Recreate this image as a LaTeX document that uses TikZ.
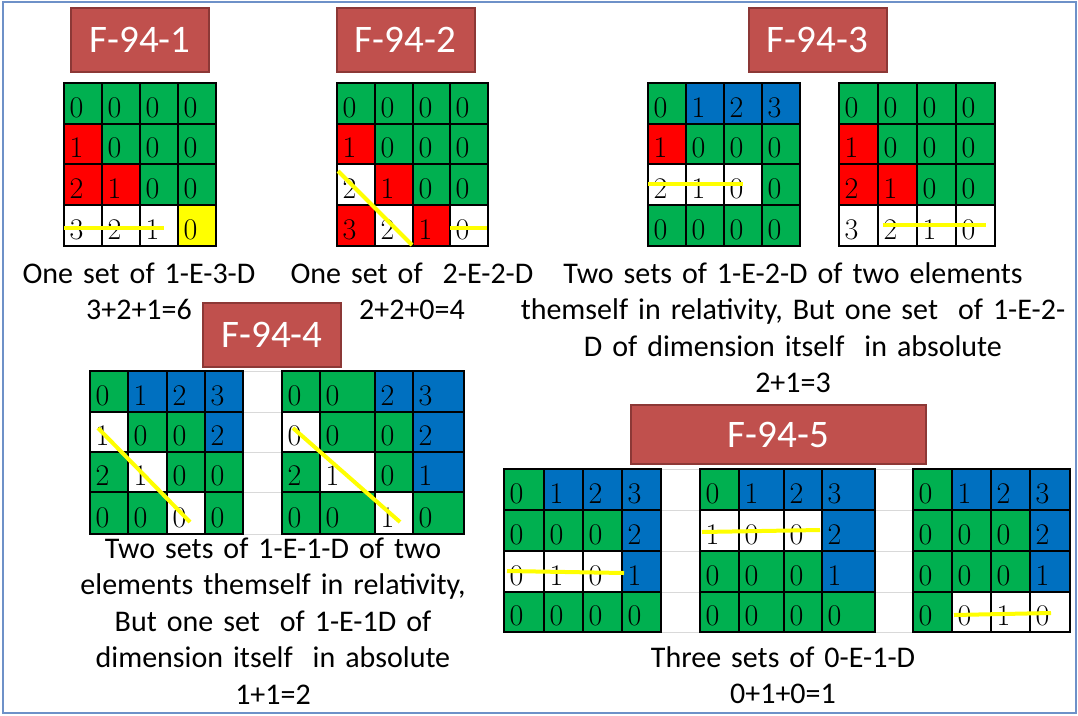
\documentclass[tikz,border=0pt]{standalone}
\usepackage{fontspec}
\newfontfamily\calibri{Carlito}
\definecolor{Vert}{RGB}{0,176,80}
\definecolor{Rouge}{RGB}{255,0,0}
\definecolor{Bleu}{RGB}{0,112,192}
\definecolor{Jaune}{RGB}{255,255,0}
\definecolor{Brique}{RGB}{192,80,77}
\definecolor{BriqueFonce}{RGB}{140,56,54}
\definecolor{Cadre}{RGB}{110,145,200}
\definecolor{Gris}{RGB}{217,217,217}
\tikzset{titre/.style={rectangle, draw=BriqueFonce, fill=Brique, line width=2pt,
  text=white, font=\calibri\fontsize{39}{47}\selectfont,
  minimum width=138pt, minimum height=64pt, inner sep=0pt}}
\tikzset{legende/.style={anchor=base, align=center, inner sep=0pt,
  font=\calibri\fontsize{30}{36.5}\selectfont}}
\tikzset{case/.style={draw=black, line width=1.5pt}}
\tikzset{chiffre/.style={anchor=base west, inner sep=0pt, font=\fontsize{30}{36}\selectfont}}
\tikzset{trait/.style={draw=Jaune, line width=4pt}}
\tikzset{fin/.style={draw=Gris, line width=1pt}}
% #1 nom, #2 bords x, #3 bords y, #4 cases couleur/valeur
\newcommand{\grille}[4]{%
  \foreach \coul/\val [count=\k from 0] in {#4}{%
    \pgfmathtruncatemacro{\ligne}{\k/4}%
    \pgfmathtruncatemacro{\colonne}{mod(\k,4)}%
    \pgfmathsetmacro{\xa}{{#2}[\colonne]}%
    \pgfmathsetmacro{\xb}{{#2}[\colonne+1]}%
    \pgfmathsetmacro{\ya}{{#3}[\ligne]}%
    \pgfmathsetmacro{\yb}{{#3}[\ligne+1]}%
    \draw[case, fill=\coul] (\xa,\ya) rectangle (\xb,\yb);
    \node[chiffre] (#1-\k) at (\xa+5.5,\yb-7) {\val};
  }%
}

\begin{document}
\begin{tikzpicture}[x=1pt, y=-1pt]
\useasboundingbox (0,0) rectangle (1078,715);
\draw[draw=Cadre, line width=2pt] (3,2) rectangle (1076,713);
\node[titre] (t1) at (140,39.5) {F-94-1};
\node[titre] (t2) at (405.5,39.5) {F-94-2};
\node[titre] (t3) at (817.5,39.5) {F-94-3};
\node[titre] (t4) at (272,335) {F-94-4};
\node[titre, minimum width=295pt, minimum height=59pt] (t5) at (778.5,434.5) {F-94-5};
% lignes grises entre les tableaux
\foreach \y in {371,412,452,492,534} \draw[fin] (243,\y) -- (282,\y);
\foreach \y in {469,510,551,592,632} {\draw[fin] (661,\y) -- (700,\y); \draw[fin] (875,\y) -- (913,\y);}
\grille{g1}{64,102,140,178,216}{83,124,164,205,246}{Vert/0,Vert/0,Vert/0,Vert/0,
  Rouge/1,Vert/0,Vert/0,Vert/0,Rouge/2,Rouge/1,Vert/0,Vert/0,white/3,white/2,white/1,Jaune/0}
\grille{g2}{337,375,413,450,488}{83,124,164,205,246}{Vert/0,Vert/0,Vert/0,Vert/0,
  Rouge/1,Vert/0,Vert/0,Vert/0,white/2,Rouge/1,Vert/0,Vert/0,Rouge/3,white/2,Rouge/1,white/0}
\grille{g3a}{648,686,724,762,800}{83,124,164,205,246}{Vert/0,Bleu/1,Bleu/2,Bleu/3,
  Rouge/1,Vert/0,Vert/0,Vert/0,white/2,white/1,white/0,Vert/0,Vert/0,Vert/0,Vert/0,Vert/0}
\grille{g3b}{839,878,917,956,995}{83,124,164,205,246}{Vert/0,Vert/0,Vert/0,Vert/0,
  Rouge/1,Vert/0,Vert/0,Vert/0,Rouge/2,Rouge/1,Vert/0,Vert/0,white/3,white/2,white/1,white/0}
\grille{g4a}{90,128,167,205,243}{371,412,452,492,534}{Vert/0,Bleu/1,Bleu/2,Bleu/3,
  white/1,Vert/0,Vert/0,Bleu/2,Vert/2,white/1,Vert/0,Vert/0,Vert/0,Vert/0,white/0,Vert/0}
\grille{g4b}{282,320,375,413,464}{371,412,452,492,534}{Vert/0,Vert/0,Bleu/2,Bleu/3,
  white/0,Vert/0,Vert/0,Bleu/2,Vert/2,white/1,Vert/0,Bleu/1,Vert/0,Vert/0,white/1,Vert/0}
\grille{g5a}{504,544,583,622,661}{469,510,551,592,632}{Vert/0,Bleu/1,Bleu/2,Bleu/3,
  Vert/0,Vert/0,Vert/0,Bleu/2,white/0,white/1,white/0,Bleu/1,Vert/0,Vert/0,Vert/0,Vert/0}
\grille{g5b}{700,739,784,822,875}{469,510,551,592,632}{Vert/0,Bleu/1,Bleu/2,Bleu/3,
  white/1,white/0,white/0,Bleu/2,Vert/0,Vert/0,Vert/0,Bleu/1,Vert/0,Vert/0,Vert/0,Vert/0}
\grille{g5c}{913,952,991,1030,1070}{469,510,551,592,632}{Vert/0,Bleu/1,Bleu/2,Bleu/3,
  Vert/0,Vert/0,Vert/0,Bleu/2,Vert/0,Vert/0,Vert/0,Bleu/1,Vert/0,white/0,white/1,white/0}
% traits jaunes
\draw[trait] (64,228) -- (164,228);
\draw[trait] (338,171) -- (412,245);
\draw[trait] (450,228) -- (487,228);
\draw[trait] (648,184) -- (743,184);
\draw[trait] (883,225) -- (986,225);
\draw[trait] (98,428) -- (190,522);
\draw[trait] (293,428) -- (400,522);
\draw[trait] (507,571) -- (624,573);
\draw[trait] (702,532) -- (820,530);
\draw[trait] (954,615) -- (1051,613);
% legendes
\node[legende, text width=260pt] (l1) at (139,283) {One set of 1-E-3-D\\3+2+1=6};
\node[legende, text width=260pt] (l2) at (412,283) {One set of~ 2-E-2-D\\2+2+0=4};
\node[legende, text width=560pt] (l3) at (793,283) {Two sets of 1-E-2-D of two elements\\
  themself in relativity, But one set~ of 1-E-2-\\D of dimension itself~ in absolute\\2+1=3};
\node[legende, text width=420pt] (l4) at (273,558) {Two sets of 1-E-1-D of two\\
  elements themself in relativity,\\But one set~ of 1-E-1D of\\dimension itself~ in absolute\\1+1=2};
\node[legende, text width=300pt] (l5) at (783,667) {Three sets of 0-E-1-D\\0+1+0=1};
\end{tikzpicture}
\end{document}
